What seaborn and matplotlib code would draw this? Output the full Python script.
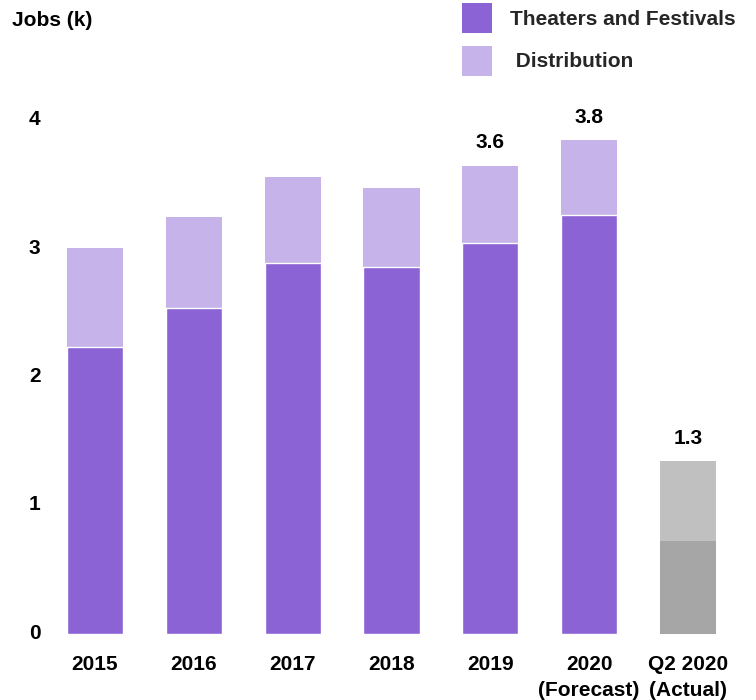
import matplotlib
matplotlib.use("Agg")
import matplotlib.pyplot as plt
from matplotlib.patches import Patch
from matplotlib.transforms import ScaledTranslation
import seaborn as sns
import pandas as pd

# Jobs (thousands) by segment
categories = ["2015", "2016", "2017", "2018", "2019", "2020\n(Forecast)", "Q2 2020\n(Actual)"]
theaters = [2.23, 2.53, 2.88, 2.85, 3.04, 3.26, 0.72]
totals = [3.00, 3.24, 3.55, 3.47, 3.64, 3.84, 1.34]
labelled = ["2019", "2020\n(Forecast)", "Q2 2020\n(Actual)"]
y_ticks = [0, 1, 2, 3, 4]
legend_labels = ["Theaters and Festivals", " Distribution"]

DARK = "#8B63D4"
LIGHT = "#C6B3E9"
GREY_DARK = "#A6A6A6"
GREY_LIGHT = "#C0C0C0"

df = pd.DataFrame({"cat": categories, "theaters": theaters, "total": totals})

sns.set_theme(style="white")
plt.rcParams["font.family"] = ["Liberation Sans", "DejaVu Sans"]
plt.rcParams["font.weight"] = "bold"

W, H = 756, 700
fig = plt.figure(figsize=(W / 100, H / 100), dpi=100)
ax = fig.add_axes([55 / W, (H - 633.5) / H, (W - 55) / W, (633.5 - 100) / H])

light_pal = [LIGHT] * 6 + [GREY_LIGHT]
dark_pal = [DARK] * 6 + [GREY_DARK]

# full bar height in the lighter shade, lower segment drawn over it
sns.barplot(data=df, x="cat", y="total", hue="cat", palette=light_pal,
            legend=False, width=0.567, ax=ax, saturation=1)
n_light = len(ax.patches)
sns.barplot(data=df, x="cat", y="theaters", hue="cat", palette=dark_pal,
            legend=False, width=0.567, ax=ax, saturation=1)
for p in ax.patches[n_light:]:
    if p.get_facecolor()[:3] == matplotlib.colors.to_rgb(DARK):
        p.set_edgecolor("white")
        p.set_linewidth(1.0)
    else:
        p.set_linewidth(0)
for p in ax.patches[:n_light]:
    p.set_linewidth(0)

# value labels above selected bars
for i, (c, t) in enumerate(zip(categories, totals)):
    if c in labelled:
        ax.annotate(f"{t:.1f}", (i, t), xytext=(0, 16.5), textcoords="offset points",
                    ha="center", va="center", fontsize=15, fontweight="bold",
                    color="black")

ax.set_xlim(-0.405, 6.688)
ax.set_ylim(0, 533.5 / 128.5)
ax.set_yticks(y_ticks)
ax.set_yticklabels([str(v) for v in y_ticks])
ax.set_xlabel("")
ax.set_ylabel("")
ax.tick_params(axis="x", length=0, pad=15.5, labelsize=15)
ax.tick_params(axis="y", length=0, pad=10.5, labelsize=15)
for lab in ax.get_yticklabels():
    lab.set_transform(lab.get_transform() + ScaledTranslation(0, 0.02, fig.dpi_scale_trans))
for lab in ax.get_xticklabels():
    lab.set_linespacing(1.45)
for lab in ax.get_xticklabels() + ax.get_yticklabels():
    lab.set_fontweight("bold")
    lab.set_color("black")
sns.despine(ax=ax, left=True, bottom=True)

fig.text(12 / W, 1 - 20 / H, "Jobs (k)", ha="left", va="center",
         fontsize=15, fontweight="bold", color="black")

handles = [Patch(facecolor=DARK, edgecolor="none"), Patch(facecolor=LIGHT, edgecolor="none")]
fig.legend(handles, legend_labels, loc="upper left",
           bbox_to_anchor=(462 / W, 1 - 3 / H), bbox_transform=fig.transFigure,
           frameon=False, borderpad=0, borderaxespad=0,
           handlelength=1.44, handleheight=1.84, handletextpad=0.87,
           labelspacing=0.6, prop={"weight": "bold", "size": 15})

fig.savefig("out.png", dpi=100, facecolor="white")
